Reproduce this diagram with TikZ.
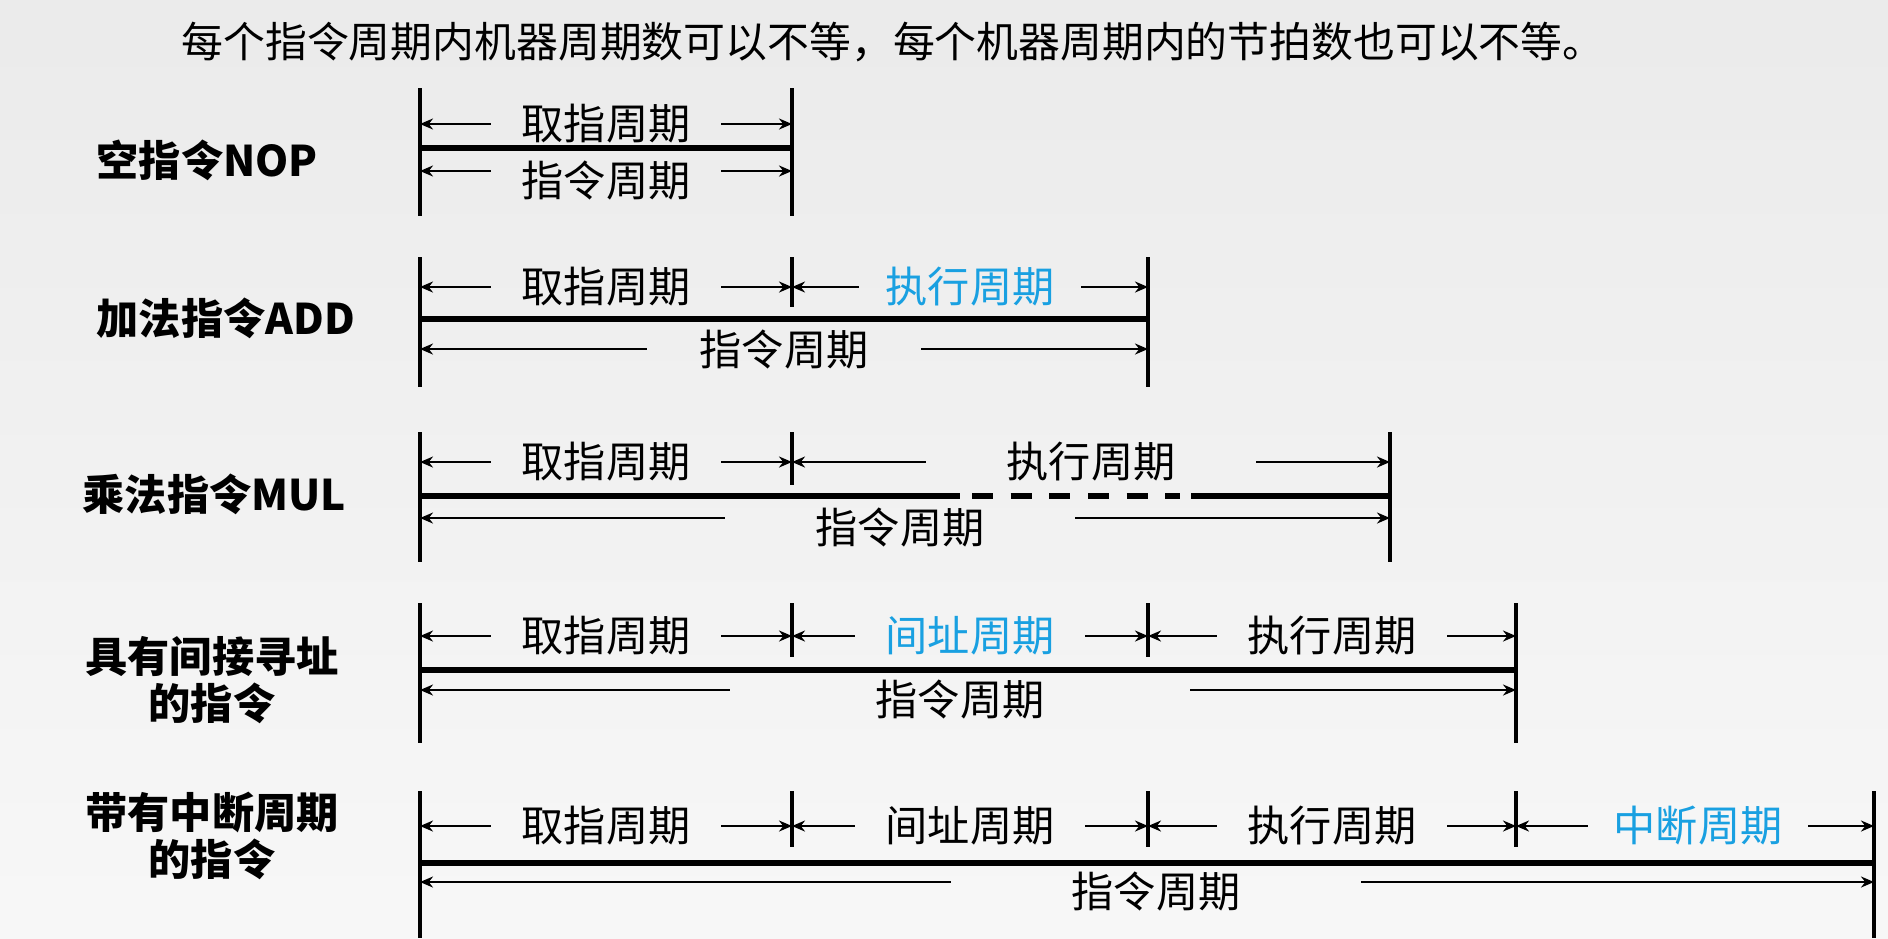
\documentclass[tikz,border=0pt]{standalone}
\usepackage{fontspec}
\setmainfont{Noto Sans CJK SC}
\usetikzlibrary{arrows.meta}
\definecolor{cycleblue}{RGB}{25,160,225}

\begin{document}
\begin{tikzpicture}[
        x=0.01cm, y=-0.01cm,
        >={Stealth[length=1.3mm, width=1.1mm]},
        bar/.style={line width=1pt},
        track/.style={line width=1.6pt},
        dim/.style={->, line width=0.6pt},
        cyc/.style={font=\fontsize{12}{14}\selectfont, inner ysep=0pt, inner xsep=0.3cm},
        hot/.style={cyc, text=cycleblue},
        whole/.style={cyc, text height=16pt, text depth=1.5pt},
        rowname/.style={font=\fontsize{12}{13.6}\selectfont\bfseries, inner sep=0pt, align=center}
    ]
    \fill[top color=black!8, bottom color=black!3] (0,0) rectangle (1888,938);
    \useasboundingbox (0,0) rectangle (1888,938);

    \node[font=\fontsize{11.9}{14}\selectfont, inner sep=0pt] (title) at (893,42) {每个指令周期内机器周期数可以不等，每个机器周期内的节拍数也可以不等。};

    % Row: NOP
    \node[rowname, anchor=west] (nopName) at (96,160) {空指令NOP};
    \coordinate (nopA) at (420,88);
    \coordinate (nopB) at (792,88);
    \draw[bar] (nopA) -- ++(0,128);
    \draw[bar] (nopB) -- ++(0,128);
    \draw[track] (420,148) -- (792,148);
    \node[cyc] (nopFetch) at (606,124) {取指周期};
    \node[whole] (nopInstr) at (606,171) {指令周期};
    \draw[dim] (nopFetch.west) -- (nopFetch.west -| nopA);
    \draw[dim] (nopFetch.east) -- (nopFetch.east -| nopB);
    \draw[dim] (nopInstr.west) -- (nopInstr.west -| nopA);
    \draw[dim] (nopInstr.east) -- (nopInstr.east -| nopB);

    % Row: ADD
    \node[rowname, anchor=west] (addName) at (96,318) {加法指令ADD};
    \coordinate (addA) at (420,257);
    \coordinate (addB) at (792,257);
    \coordinate (addC) at (1148,257);
    \draw[bar] (addA) -- ++(0,130);
    \draw[bar] (addB) -- ++(0,50);
    \draw[bar] (addC) -- ++(0,130);
    \draw[track] (420,319) -- (1148,319);
    \node[cyc] (addFetch) at (606,287) {取指周期};
    \node[hot, inner xsep=0.26cm] (addExec) at (970,287) {执行周期};
    \node[cyc, inner xsep=0.52cm] (addInstr) at (784,349) {指令周期};
    \draw[dim] (addFetch.west) -- (addFetch.west -| addA);
    \draw[dim] (addFetch.east) -- (addFetch.east -| addB);
    \draw[dim] (addExec.west) -- (addExec.west -| addB);
    \draw[dim] (addExec.east) -- (addExec.east -| addC);
    \draw[dim] (addInstr.west) -- (addInstr.west -| addA);
    \draw[dim] (addInstr.east) -- (addInstr.east -| addC);

    % Row: MUL, execution of varying length
    \node[rowname, anchor=west] (mulName) at (82,494) {乘法指令MUL};
    \coordinate (mulA) at (420,432);
    \coordinate (mulB) at (792,432);
    \coordinate (mulC) at (1390,432);
    \draw[bar] (mulA) -- ++(0,130);
    \draw[bar] (mulB) -- ++(0,53);
    \draw[bar] (mulC) -- ++(0,130);
    \draw[track] (420,496) -- (960,496);
    \draw[track, dash pattern=on 6pt off 5pt] (972,496) -- (1180,496);
    \draw[track] (1191,496) -- (1390,496);
    \node[cyc] (mulFetch) at (606,462) {取指周期};
    \node[cyc, inner xsep=0.8cm] (mulExec) at (1091,462) {执行周期};
    \node[whole, inner xsep=0.9cm] (mulInstr) at (900,518) {指令周期};
    \draw[dim] (mulFetch.west) -- (mulFetch.west -| mulA);
    \draw[dim] (mulFetch.east) -- (mulFetch.east -| mulB);
    \draw[dim] (mulExec.west) -- (mulExec.west -| mulB);
    \draw[dim] (mulExec.east) -- (mulExec.east -| mulC);
    \draw[dim] (mulInstr.west) -- (mulInstr.west -| mulA);
    \draw[dim] (mulInstr.east) -- (mulInstr.east -| mulC);

    % Row: indirect addressing
    \node[rowname] (indName) at (212,680) {具有间接寻址\\的指令};
    \coordinate (indA) at (420,603);
    \coordinate (indB) at (792,603);
    \coordinate (indC) at (1148,603);
    \coordinate (indD) at (1516,603);
    \draw[bar] (indA) -- ++(0,140);
    \draw[bar] (indB) -- ++(0,54);
    \draw[bar] (indC) -- ++(0,54);
    \draw[bar] (indD) -- ++(0,140);
    \draw[track] (420,670) -- (1516,670);
    \node[cyc] (indFetch) at (606,636) {取指周期};
    \node[hot] (indAddr) at (970,636) {间址周期};
    \node[cyc] (indExec) at (1332,636) {执行周期};
    \node[whole, inner xsep=1.45cm] (indInstr) at (960,690) {指令周期};
    \draw[dim] (indFetch.west) -- (indFetch.west -| indA);
    \draw[dim] (indFetch.east) -- (indFetch.east -| indB);
    \draw[dim] (indAddr.west) -- (indAddr.west -| indB);
    \draw[dim] (indAddr.east) -- (indAddr.east -| indC);
    \draw[dim] (indExec.west) -- (indExec.west -| indC);
    \draw[dim] (indExec.east) -- (indExec.east -| indD);
    \draw[dim] (indInstr.west) -- (indInstr.west -| indA);
    \draw[dim] (indInstr.east) -- (indInstr.east -| indD);

    % Row: interrupt cycle
    \node[rowname] (intName) at (212,836) {带有中断周期\\的指令};
    \coordinate (intA) at (420,791);
    \coordinate (intB) at (792,791);
    \coordinate (intC) at (1148,791);
    \coordinate (intD) at (1516,791);
    \coordinate (intE) at (1874,791);
    \draw[bar] (intA) -- ++(0,147);
    \draw[bar] (intB) -- ++(0,56);
    \draw[bar] (intC) -- ++(0,56);
    \draw[bar] (intD) -- ++(0,56);
    \draw[bar] (intE) -- ++(0,147);
    \draw[track] (420,863) -- (1874,863);
    \node[cyc] (intFetch) at (606,826) {取指周期};
    \node[cyc] (intAddr) at (970,826) {间址周期};
    \node[cyc] (intExec) at (1332,826) {执行周期};
    \node[hot, inner xsep=0.25cm] (intIrq) at (1698,826) {中断周期};
    \node[whole, inner xsep=1.2cm] (intInstr) at (1156,882) {指令周期};
    \draw[dim] (intFetch.west) -- (intFetch.west -| intA);
    \draw[dim] (intFetch.east) -- (intFetch.east -| intB);
    \draw[dim] (intAddr.west) -- (intAddr.west -| intB);
    \draw[dim] (intAddr.east) -- (intAddr.east -| intC);
    \draw[dim] (intExec.west) -- (intExec.west -| intC);
    \draw[dim] (intExec.east) -- (intExec.east -| intD);
    \draw[dim] (intIrq.west) -- (intIrq.west -| intD);
    \draw[dim] (intIrq.east) -- (intIrq.east -| intE);
    \draw[dim] (intInstr.west) -- (intInstr.west -| intA);
    \draw[dim] (intInstr.east) -- (intInstr.east -| intE);
\end{tikzpicture}
\end{document}
